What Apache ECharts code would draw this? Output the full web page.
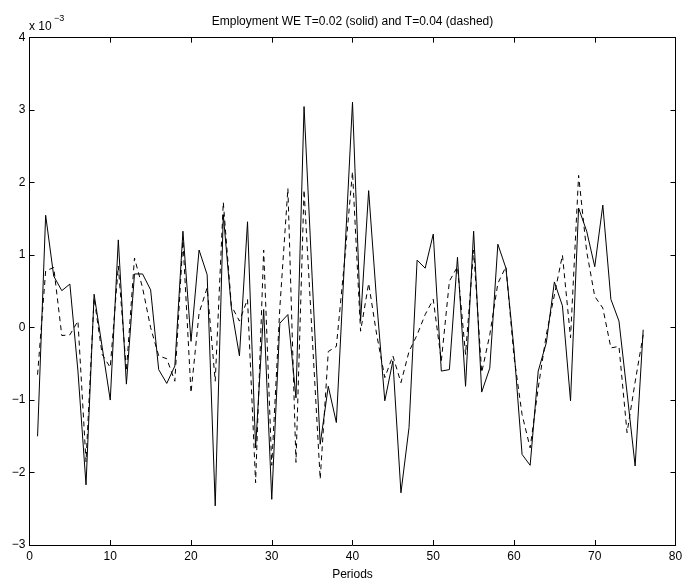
<!DOCTYPE html>
<html>
<head>
<meta charset="utf-8">
<script src="https://cdn.jsdelivr.net/npm/echarts@6/dist/echarts.min.js"></script>
<style>
  html, body { margin: 0; padding: 0; background: #fff; }
  #main { width: 688px; height: 586px; }
</style>
</head>
<body>
<div id="main"></div>
<script>
// periods on the x axis
var periods = [1, 2, 3, 4, 5, 6, 7, 8, 9, 10, 11, 12, 13, 14, 15, 16, 17, 18, 19, 20,
  21, 22, 23, 24, 25, 26, 27, 28, 29, 30, 31, 32, 33, 34, 35, 36, 37, 38, 39, 40,
  41, 42, 43, 44, 45, 46, 47, 48, 49, 50, 51, 52, 53, 54, 55, 56, 57, 58, 59, 60,
  61, 62, 63, 64, 65, 66, 67, 68, 69, 70, 71, 72, 73, 74, 75, 76];

// employment, in units of 1e-3
var solidT002 = [-1.50, 1.55, 0.71, 0.51, 0.60, -0.60, -2.17, 0.46, -0.27, -1.00,
  1.21, -0.78, 0.74, 0.74, 0.52, -0.58, -0.77, -0.53, 1.33, -0.19,
  1.07, 0.73, -2.46, 1.56, 0.27, -0.39, 1.46, -1.66, 0.25, -2.37,
  0.06, 0.18, -0.97, 3.05, 0.70, -1.61, -0.81, -1.31, 0.90, 3.11,
  0.09, 1.89, 0.35, -1.01, -0.46, -2.28, -1.38, 0.93, 0.82, 1.29,
  -0.60, -0.58, 0.97, -0.81, 1.33, -0.89, -0.56, 1.15, 0.82, -0.30,
  -1.75, -1.90, -0.60, -0.21, 0.63, 0.30, -1.01, 1.65, 1.33, 0.84,
  1.69, 0.39, 0.09, -0.90, -1.91, -0.03];

var dashedT004 = [-0.65, 0.78, 0.83, -0.11, -0.10, 0.09, -1.85, 0.41, -0.37, -0.55,
  0.85, -0.60, 0.96, 0.55, 0.00, -0.39, -0.43, -0.74, 1.20, -0.90,
  0.20, 0.55, -0.74, 1.73, 0.30, 0.09, 0.39, -2.14, 1.07, -1.90,
  0.27, 1.92, -1.86, 1.90, -0.10, -2.09, -0.33, -0.26, 0.90, 2.15,
  -0.05, 0.61, -0.10, -0.69, -0.39, -0.76, -0.33, -0.10, 0.18, 0.39,
  -0.46, 0.64, 0.84, -0.37, 1.07, -0.62, -0.10, 0.61, 0.84, -0.40,
  -1.20, -1.66, -0.83, -0.10, 0.45, 1.00, -0.14, 2.10, 1.05, 0.43,
  0.27, -0.28, -0.26, -1.45, -0.75, -0.10];

var xTicks = [0, 10, 20, 30, 40, 50, 60, 70, 80];
var yTicks = [-3, -2, -1, 0, 1, 2, 3, 4];

var FONT = 'Liberation Sans, Arial, Helvetica, sans-serif';

function pairs(xs, ys) {
  return xs.map(function (x, i) { return [x, ys[i]]; });
}

var chart = echarts.init(document.getElementById('main'), null, { renderer: 'canvas' });

var axisCommon = {
  type: 'value',
  axisLine: { show: true, onZero: false, lineStyle: { color: '#000', width: 1 } },
  axisTick: { show: true, inside: true, length: 5, lineStyle: { color: '#000' } },
  splitLine: { show: false }
};

var option = {
  animation: false,
  backgroundColor: '#fff',
  grid: { left: 29.5, right: 12.5, top: 37.7, bottom: 39.3, containLabel: false },
  xAxis: [
    Object.assign({}, axisCommon, {
      position: 'bottom',
      min: xTicks[0], max: xTicks[xTicks.length - 1], interval: 10,
      axisLabel: { color: '#000', fontSize: 12, fontFamily: FONT, margin: 6 },
      name: 'Periods', nameLocation: 'middle', nameGap: 24,
      nameTextStyle: { color: '#000', fontSize: 12, fontFamily: FONT }
    }),
    Object.assign({}, axisCommon, {
      position: 'top',
      min: xTicks[0], max: xTicks[xTicks.length - 1], interval: 10,
      axisLabel: { show: false }
    })
  ],
  yAxis: [
    Object.assign({}, axisCommon, {
      position: 'left',
      min: yTicks[0], max: yTicks[yTicks.length - 1], interval: 1,
      axisLabel: {
        color: '#000', fontSize: 12, fontFamily: FONT, margin: 4,
        formatter: function (v) { return String(v).replace('-', '\u2212'); }
      }
    }),
    Object.assign({}, axisCommon, {
      position: 'right',
      min: yTicks[0], max: yTicks[yTicks.length - 1], interval: 1,
      axisLabel: { show: false }
    })
  ],
  graphic: [
    {
      type: 'text', x: 352.5, y: 22,
      style: {
        text: 'Employment WE T=0.02 (solid) and T=0.04 (dashed)',
        align: 'center', verticalAlign: 'middle',
        fontSize: 12, fontFamily: FONT, fill: '#000'
      }
    },
    {
      type: 'text', x: 29, y: 27,
      style: { text: 'x 10', align: 'left', verticalAlign: 'middle', fontSize: 12, fontFamily: FONT, fill: '#000' }
    },
    {
      type: 'text', x: 54, y: 19,
      style: { text: '\u22123', align: 'left', verticalAlign: 'middle', fontSize: 9, fontFamily: FONT, fill: '#000' }
    }
  ],
  series: [
    {
      name: 'T=0.02', type: 'line', xAxisIndex: 0, yAxisIndex: 0,
      data: pairs(periods, solidT002),
      showSymbol: false, symbol: 'none',
      lineStyle: { color: '#000', width: 1, type: 'solid' }
    },
    {
      name: 'T=0.04', type: 'line', xAxisIndex: 0, yAxisIndex: 0,
      data: pairs(periods, dashedT004),
      showSymbol: false, symbol: 'none',
      lineStyle: { color: '#000', width: 1, type: [5, 4] }
    }
  ]
};

chart.setOption(option);
</script>
</body>
</html>
